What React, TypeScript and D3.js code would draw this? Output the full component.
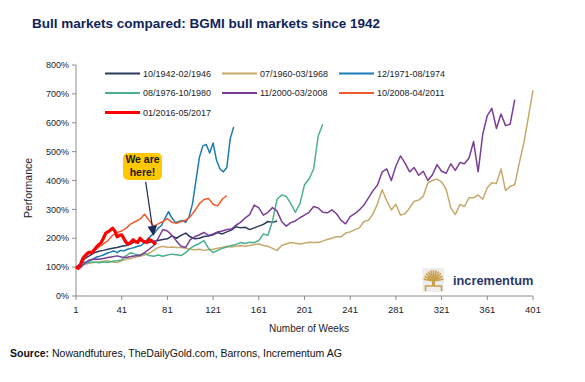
import React from "react";
import * as d3 from "d3";

const WIDTH = 585;
const HEIGHT = 382;

const titleText = "Bull markets compared: BGMI bull markets since 1942";
const xAxisTitle = "Number of Weeks";
const yAxisTitle = "Performance";
const sourceLabel = "Source:";
const sourceText = " Nowandfutures, TheDailyGold.com, Barrons, Incrementum AG";
const logoText = "incrementum";

const xTickValues = [1, 41, 81, 121, 161, 201, 241, 281, 321, 361, 401];
const yTickValues = [0, 100, 200, 300, 400, 500, 600, 700, 800];

const seriesLabels = [
  "10/1942-02/1946",
  "07/1960-03/1968",
  "12/1971-08/1974",
  "08/1976-10/1980",
  "11/2000-03/2008",
  "10/2008-04/2011",
  "01/2016-05/2017",
];
const seriesColors = ["#2c3a5f", "#c6a96b", "#1b7bb5", "#4db08d", "#7a3e98", "#ee5a2b", "#ff0000"];
// weeks between consecutive readings of each series (first reading = week 1)
const seriesSteps = [4, 4, 3, 4, 4, 4, 2];

const bull1942 = [
  100, 112, 130, 140, 150, 155, 158, 162, 165, 168,
  172, 175, 180, 190, 192, 186, 185, 190, 192, 196,
  198, 208, 200, 210, 218, 205, 198, 200, 206, 208,
  212, 220, 215, 222, 228, 240, 236, 238, 230, 236,
  242, 248, 258, 255, 260,
];
const bull1960 = [
  100, 105, 110, 114, 116, 118, 120, 122, 118, 116,
  122, 128, 130, 135, 138, 142, 148, 158, 168, 172,
  168, 170, 168, 168, 165, 162, 160, 162, 158, 160,
  162, 165, 168, 172, 170, 172, 174, 172, 175, 178,
  180, 175, 172, 165, 158, 175, 180, 185, 183, 180,
  183, 186, 185, 185, 190, 196, 200, 205, 205, 218,
  222, 230, 236, 258, 262, 285, 320, 368, 330, 298,
  318, 280, 285, 305, 328, 332, 346, 392, 400, 405,
  395, 369, 306, 282, 317, 310, 340, 340, 350, 335,
  375, 392, 390, 440, 365, 380, 385, 460, 530, 620, 712,
];
const bull1971 = [
  100, 108, 115, 118, 122, 128, 135, 138, 142, 148,
  152, 156, 150, 158, 156, 162, 165, 168, 172, 175,
  185, 198, 210, 220, 235, 245, 270, 292, 270, 254,
  258, 262, 255, 275, 320, 400, 480, 520, 525, 495,
  530, 470, 440, 430, 445, 545, 585,
];
const bull1976 = [
  100, 105, 112, 116, 118, 115, 118, 116, 120, 122,
  125, 140, 150, 145, 142, 148, 140, 138, 142, 138,
  142, 145, 143, 140, 150, 165, 175, 182, 192, 165,
  150, 158, 165, 170, 175, 178, 185, 182, 186, 185,
  192, 215, 210, 260, 335, 350, 345, 320, 290, 320,
  385, 405, 440, 555, 595,
];
const bull2000 = [
  100, 98, 115, 125, 128, 127, 130, 133, 136, 139,
  135, 133, 137, 139, 140, 150, 162, 175, 200, 230,
  225, 210, 190, 172, 168, 195, 205, 212, 220, 210,
  215, 222, 225, 230, 232, 245, 255, 270, 282, 315,
  305, 280, 290, 306, 294, 258, 242, 254, 260, 271,
  280, 290, 310, 305, 290, 288, 298, 285, 262, 250,
  275, 285, 298, 315, 340, 365, 385, 430, 440, 400,
  450, 485, 460, 430, 445, 418, 432, 400, 420, 455,
  432, 425, 458, 435, 462, 458, 478, 535, 430, 560,
  625, 650, 580, 630, 590, 595, 680,
];
const bull2008 = [
  100, 108, 135, 150, 156, 170, 180, 192, 210, 220,
  225, 235, 250, 258, 266, 283, 262, 242, 250, 258,
  268, 255, 252, 258, 262, 275, 295, 320, 334, 338,
  318, 312, 335, 348,
];
const bull2016 = [
  100, 96, 110, 130, 140, 148, 152, 150, 160, 170,
  178, 185, 200, 218, 222, 228, 235, 225, 205, 210,
  212, 198, 185, 180, 186, 195, 188, 185, 200, 192,
  188, 185, 196, 192, 185, 178,
];
const seriesValues = [bull1942, bull1960, bull1971, bull1976, bull2000, bull2008, bull2016];

const calloutLines = ["We are", "here!"];
const arrowFrom = { week: 62, pct: 395 };
const arrowTo = { week: 69, pct: 208 };

export default function App() {
  const x = d3.scaleLinear().domain([1, 401]).range([76, 533]);
  const y = d3.scaleLinear().domain([0, 800]).range([296, 65]);

  const line = d3
    .line<[number, number]>()
    .x((d) => x(d[0]))
    .y((d) => y(d[1]));

  const series = seriesValues.map((vals, i) => ({
    label: seriesLabels[i],
    color: seriesColors[i],
    width: i === 6 ? 3.2 : 1.5,
    points: vals.map((v, j) => [1 + j * seriesSteps[i], v] as [number, number]),
  }));

  // arrow geometry
  const ax0 = x(arrowFrom.week), ay0 = y(arrowFrom.pct);
  const ax1 = x(arrowTo.week), ay1 = y(arrowTo.pct);
  const dx = ax1 - ax0, dy = ay1 - ay0;
  const len = Math.hypot(dx, dy);
  const ux = dx / len, uy = dy / len;
  const headLen = 10, headHalf = 4.8;
  const bx = ax1 - ux * headLen, by = ay1 - uy * headLen;
  const headPts = [
    [ax1, ay1],
    [bx - uy * headHalf, by + ux * headHalf],
    [bx + uy * headHalf, by - ux * headHalf],
  ]
    .map((p) => p.join(","))
    .join(" ");

  const font = "'Liberation Sans', Arial, sans-serif";
  const textColor = "#1c1c2a";
  const axisColor = "#8c8c8c";

  // logo tree branches
  const treeCx = 433.5;
  const branchAngles = d3.range(-80, 81, 16);

  return (
    <svg
      width={WIDTH}
      height={HEIGHT}
      style={{ position: "absolute", left: 0, top: 0, background: "#fff" }}
      fontFamily={font}
    >
      <rect x={0} y={0} width={WIDTH} height={HEIGHT} fill="#fff" />
      <text x={32} y={28} fontSize={13.5} fontWeight="bold" fill="#10245a">
        {titleText}
      </text>

      {/* logo */}
      <g>
        <rect x={422.5} y={268} width={21.5} height={24} fill="#ededed" />
        {branchAngles.map((a, i) => {
          const r = (a * Math.PI) / 180;
          return (
            <line
              key={i}
              x1={treeCx}
              y1={281}
              x2={treeCx + Math.sin(r) * 10}
              y2={281 - Math.cos(r) * 11}
              stroke="#c9a04c"
              strokeWidth={1.6}
            />
          );
        })}
        <rect x={treeCx - 1.5} y={278} width={3} height={8} fill="#c9a04c" />
        <path d={`M${treeCx - 8},291 L${treeCx - 8},286 L${treeCx + 8},286 L${treeCx + 8},291`} fill="none" stroke="#c9a04c" strokeWidth={1.6} />
        <text x={453} y={284.5} fontSize={12.8} fontWeight="bold" fill="#2b3867">
          {logoText}
        </text>
      </g>

      {/* axes */}
      <line x1={76} x2={76} y1={y(800)} y2={y(0)} stroke={axisColor} strokeWidth={1} />
      {yTickValues.map((t) => (
        <g key={t}>
          <line x1={72} x2={76} y1={y(t)} y2={y(t)} stroke={axisColor} />
          <text x={69} y={y(t)} dy="0.35em" textAnchor="end" fontSize={9} fill={textColor}>
            {t}%
          </text>
        </g>
      ))}
      <line x1={x(1)} x2={x(401)} y1={y(0)} y2={y(0)} stroke={axisColor} strokeWidth={1} />
      {xTickValues.map((t) => (
        <g key={t}>
          <line x1={x(t)} x2={x(t)} y1={y(0)} y2={y(0) + 4} stroke={axisColor} />
          <text x={x(t)} y={312.5} textAnchor="middle" fontSize={9.5} fill={textColor}>
            {t}
          </text>
        </g>
      ))}
      <text x={309} y={331.5} textAnchor="middle" fontSize={10} fill={textColor}>
        {xAxisTitle}
      </text>
      <text
        transform="translate(31.5,188) rotate(-90)"
        textAnchor="middle"
        fontSize={10.5}
        fill={textColor}
      >
        {yAxisTitle}
      </text>

      {/* series */}
      {series.map((s) => (
        <path
          key={s.label}
          d={line(s.points) || ""}
          fill="none"
          stroke={s.color}
          strokeWidth={s.width}
          strokeLinejoin="round"
        />
      ))}

      {/* legend */}
      {series.map((s, i) => {
        const col = i % 3;
        const row = Math.floor(i / 3);
        const lx = 105 + col * 117;
        const ly = 73.5 + row * 19.5;
        return (
          <g key={s.label}>
            <line x1={lx} x2={lx + 35} y1={ly} y2={ly} stroke={s.color} strokeWidth={i === 6 ? 3.2 : 2} />
            <text x={lx + 38} y={ly} dy="0.35em" fontSize={9} fill={textColor}>
              {s.label}
            </text>
          </g>
        );
      })}

      {/* callout */}
      <rect x={123} y={153} width={39} height={27} rx={5} fill="#ffc800" />
      {calloutLines.map((t, i) => (
        <text key={t} x={142.5} y={162.5 + i * 13} textAnchor="middle" fontSize={10.5} fontWeight="bold" fill="#1a1a1a">
          {t}
        </text>
      ))}
      <line x1={ax0} y1={ay0} x2={bx} y2={by} stroke="#1d2b5c" strokeWidth={1.2} />
      <polygon points={headPts} fill="#1d2b5c" />

      {/* source */}
      <text x={10} y={356.5} fontSize={10.5} fill="#111">
        <tspan fontWeight="bold">{sourceLabel}</tspan>
        {sourceText}
      </text>
    </svg>
  );
}
